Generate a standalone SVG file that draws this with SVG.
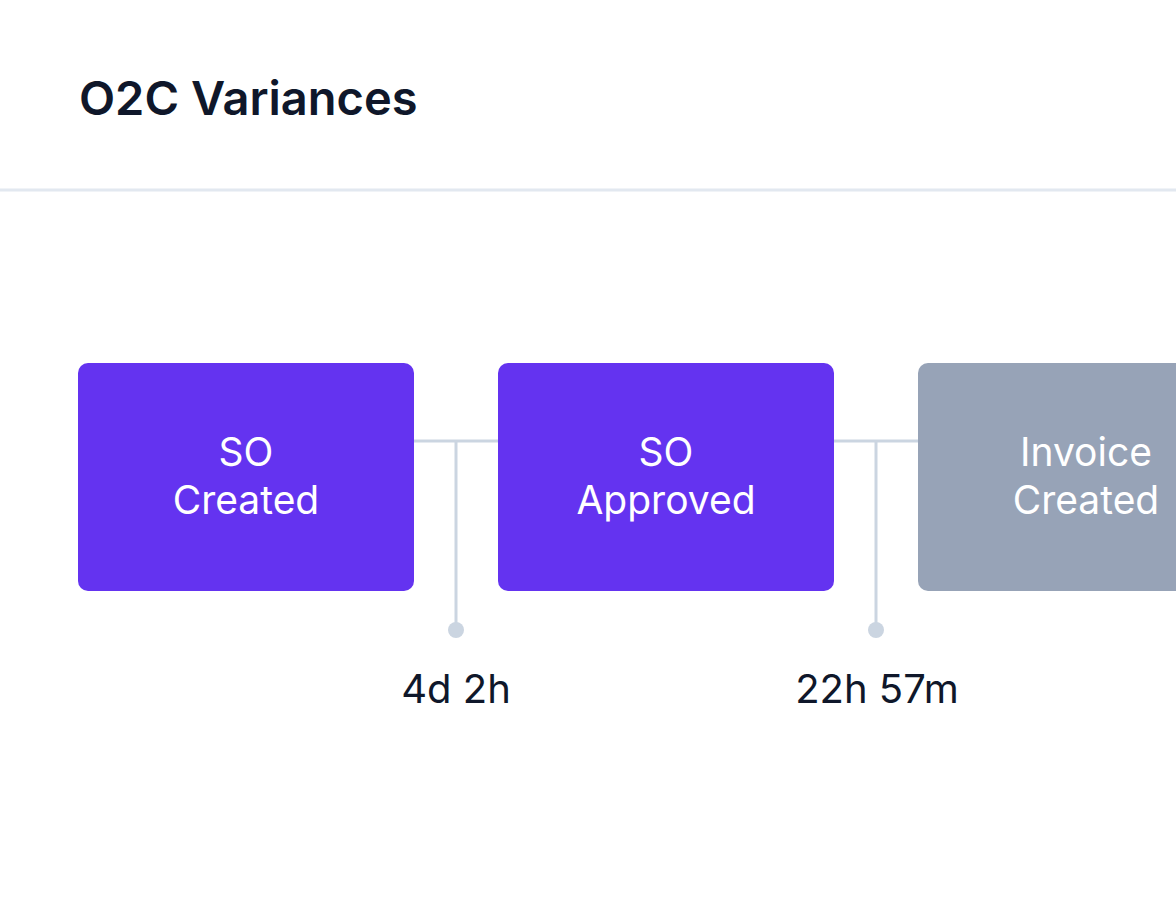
<svg xmlns="http://www.w3.org/2000/svg" width="1176" height="900" viewBox="0 0 1176 900">
<style>
.title{font-family:Inter,"Liberation Sans",sans-serif;font-weight:600;font-size:47px;fill:#0f172a}
.ntext{font-family:Inter,"Liberation Sans",sans-serif;font-size:39px;fill:#ffffff;text-anchor:middle}
.lbl{font-family:Inter,"Liberation Sans",sans-serif;font-size:40px;fill:#0f172a;text-anchor:middle}
.conn{stroke:#cbd5e1;stroke-width:3;fill:none}
</style>
<rect width="1176" height="900" fill="#ffffff"/>
<text class="title" x="79" y="115">O2C Variances</text>
<line x1="0" y1="190" x2="1176" y2="190" stroke="#e2e8f0" stroke-width="3"/>
<g id="connectors">
<path class="conn" d="M414 441H498M456 441V630"/>
<circle cx="456" cy="630" r="8" fill="#cbd5e1"/>
<path class="conn" d="M834 441H918M876 441V630"/>
<circle cx="876" cy="630" r="8" fill="#cbd5e1"/>
</g>
<g id="node-so-created" class="node">
<rect x="78" y="363" width="336" height="228" rx="10" fill="#6433f0"/>
<text class="ntext" x="246" y="466">SO</text>
<text class="ntext" x="246" y="514">Created</text>
</g>
<g id="node-so-approved" class="node">
<rect x="498" y="363" width="336" height="228" rx="10" fill="#6433f0"/>
<text class="ntext" x="666" y="466">SO</text>
<text class="ntext" x="666" y="514">Approved</text>
</g>
<g id="node-invoice-created" class="node">
<rect x="918" y="363" width="336" height="228" rx="10" fill="#97a3b7"/>
<text class="ntext" x="1086" y="466">Invoice</text>
<text class="ntext" x="1086" y="514">Created</text>
</g>
<g id="labels">
<text class="lbl" x="456" y="703">4d 2h</text>
<text class="lbl" x="877" y="703">22h 57m</text>
</g>
</svg>
